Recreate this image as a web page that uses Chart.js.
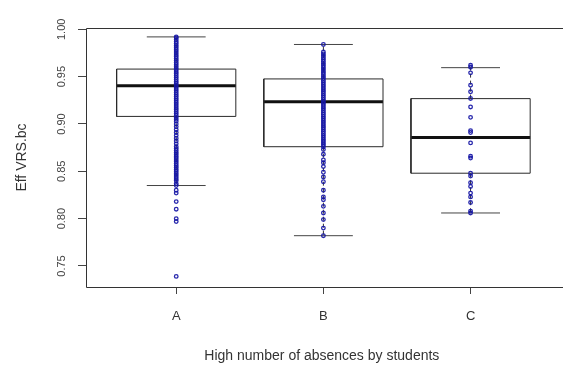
<!DOCTYPE html>
<html>
<head>
<title>Eff VRS.bc by absences</title>
<style>
  body { margin: 0; background: #fff; overflow: hidden; }
  #wrap { width: 563px; height: 370px; }
</style>
<script src="https://cdn.jsdelivr.net/npm/chart.js"></script>
</head>
<body>
<div id="wrap"><canvas id="boxChart"></canvas></div>
<script>
// categories and tick labels
var groups = ['A', 'B', 'C'];
var yTicks = [0.75, 0.80, 0.85, 0.90, 0.95, 1.00];

// box statistics
var whiskerLow  = [0.835, 0.782, 0.806];
var q1          = [0.908, 0.876, 0.848];
var median      = [0.9405, 0.9236, 0.8857];
var q3          = [0.958, 0.9476, 0.9268];
var whiskerHigh = [0.992, 0.984, 0.9595];

// individual observations (stripchart over the boxes)
var pointsA = [0.992, 0.991, 0.989, 0.987, 0.985, 0.983, 0.981, 0.979, 0.977, 0.975,
    0.973, 0.971, 0.969, 0.967, 0.965, 0.963, 0.961, 0.959, 0.957, 0.955,
    0.953, 0.951, 0.949, 0.947, 0.945, 0.943, 0.941, 0.939, 0.937, 0.935,
    0.933, 0.931, 0.929, 0.927, 0.925, 0.923, 0.921, 0.919, 0.917, 0.915,
    0.913, 0.911, 0.909, 0.907, 0.905, 0.903, 0.900, 0.897, 0.894, 0.891,
    0.888, 0.885, 0.882, 0.879, 0.876, 0.874, 0.872, 0.870, 0.868, 0.866,
    0.864, 0.862, 0.860, 0.858, 0.856, 0.854, 0.852, 0.850, 0.848, 0.846,
    0.844, 0.842, 0.840, 0.837, 0.835, 0.830, 0.827, 0.818, 0.810, 0.800,
    0.797, 0.739];
var pointsB = [0.984, 0.976, 0.974, 0.972, 0.970, 0.968, 0.966, 0.964, 0.962, 0.960,
    0.958, 0.956, 0.954, 0.952, 0.950, 0.948, 0.946, 0.944, 0.942, 0.940,
    0.938, 0.936, 0.934, 0.932, 0.930, 0.928, 0.926, 0.924, 0.922, 0.920,
    0.918, 0.916, 0.914, 0.912, 0.910, 0.908, 0.906, 0.904, 0.902, 0.900,
    0.898, 0.896, 0.894, 0.892, 0.890, 0.888, 0.886, 0.884, 0.882, 0.880,
    0.878, 0.876, 0.873, 0.868, 0.862, 0.859, 0.855, 0.849, 0.844, 0.839,
    0.830, 0.823, 0.820, 0.813, 0.806, 0.799, 0.790, 0.782];
var pointsC = [0.962, 0.960, 0.954, 0.941, 0.934, 0.927, 0.918, 0.907, 0.893, 0.891,
    0.880, 0.866, 0.864, 0.848, 0.845, 0.838, 0.834, 0.827, 0.823, 0.817,
    0.808, 0.806];

var boxHalf = 0.405; // half box width in x units
var capHalf = 0.2;   // half whisker cap width

function segment(points, width, color, dash) {
    return {
        type: 'scatter',
        data: points,
        showLine: true,
        pointRadius: 0,
        borderColor: color,
        borderWidth: width,
        borderDash: dash || [],
        fill: false,
        order: 1
    };
}

var datasets = [];

// observations drawn on top
[pointsA, pointsB, pointsC].forEach(function (vals, i) {
    datasets.push({
        type: 'scatter',
        data: vals.map(function (v) { return { x: i + 1, y: v }; }),
        pointRadius: 1.8,
        pointStyle: 'circle',
        borderColor: 'rgba(22, 22, 165, 0.92)',
        backgroundColor: 'rgba(0,0,0,0)',
        borderWidth: 1.3,
        order: 0
    });
});

groups.forEach(function (g, i) {
    var x = i + 1;
    // box outline
    datasets.push(segment([
        { x: x - boxHalf, y: q1[i] }, { x: x + boxHalf, y: q1[i] },
        { x: x + boxHalf, y: q3[i] }, { x: x - boxHalf, y: q3[i] },
        { x: x - boxHalf, y: q1[i] }
    ], 1, '#2a2a2a'));
    // median
    datasets.push(segment([{ x: x - boxHalf, y: median[i] }, { x: x + boxHalf, y: median[i] }], 3, '#111'));
    // whisker stems (dashed)
    datasets.push(segment([{ x: x, y: q3[i] }, { x: x, y: whiskerHigh[i] }], 1, '#333', [4, 3]));
    datasets.push(segment([{ x: x, y: q1[i] }, { x: x, y: whiskerLow[i] }], 1, '#333', [4, 3]));
    // caps
    datasets.push(segment([{ x: x - capHalf, y: whiskerHigh[i] }, { x: x + capHalf, y: whiskerHigh[i] }], 1, '#444'));
    datasets.push(segment([{ x: x - capHalf, y: whiskerLow[i] }, { x: x + capHalf, y: whiskerLow[i] }], 1, '#444'));
});

// plot frame like R's box(); right side is cut off in the original
var framePlugin = {
    id: 'frame',
    afterDatasetsDraw: function (chart) {
        var a = chart.chartArea, c = chart.ctx;
        var l = Math.round(a.left) + 0.5, t = Math.round(a.top) + 0.5, b = Math.round(a.bottom) + 0.5;
        c.save();
        c.strokeStyle = '#333';
        c.lineWidth = 1;
        c.beginPath();
        c.moveTo(chart.width, t);
        c.lineTo(l, t);
        c.lineTo(l, b);
        c.lineTo(chart.width, b);
        c.stroke();
        c.restore();
    }
};

var ctx = document.getElementById('boxChart').getContext('2d');
new Chart(ctx, {
    type: 'scatter',
    data: { datasets: datasets },
    plugins: [framePlugin],
    options: {
        responsive: true,
        maintainAspectRatio: false,
        animation: false,
        layout: { padding: { top: 28, right: 1, left: 0, bottom: 0 } },
        plugins: {
            legend: { display: false },
            tooltip: { enabled: false }
        },
        scales: {
            x: {
                type: 'linear',
                min: 0.387,
                max: 3.592,
                afterBuildTicks: function (scale) {
                    scale.ticks = groups.map(function (g, i) { return { value: i + 1 }; });
                },
                afterFit: function (scale) { scale.height = 83; },
                border: { display: false },
                grid: { display: true, drawOnChartArea: false, drawTicks: true, tickLength: 7, color: '#444' },
                ticks: {
                    padding: 15,
                    color: '#333',
                    font: { family: 'Liberation Sans, Arial, sans-serif', size: 13 },
                    callback: function (value, index) { return groups[index]; }
                },
                title: {
                    display: true,
                    text: 'High number of absences by students',
                    color: '#333',
                    font: { family: 'Liberation Sans, Arial, sans-serif', size: 14 },
                    padding: { top: 0, bottom: 5 }
                }
            },
            y: {
                type: 'linear',
                min: 0.7278,
                max: 1.0014,
                afterBuildTicks: function (scale) {
                    scale.ticks = yTicks.map(function (v) { return { value: v }; });
                },
                afterFit: function (scale) { scale.width = 86; },
                border: { display: false },
                grid: { display: true, drawOnChartArea: false, drawTicks: true, tickLength: 8, color: '#444' },
                ticks: {
                    minRotation: 90,
                    maxRotation: 90,
                    crossAlign: 'center',
                    padding: 5,
                    color: '#444',
                    font: { family: 'Liberation Sans, Arial, sans-serif', size: 11 },
                    callback: function (value) { return value.toFixed(2); }
                },
                title: {
                    display: true,
                    text: 'Eff VRS.bc',
                    color: '#333',
                    font: { family: 'Liberation Sans, Arial, sans-serif', size: 14 },
                    padding: { top: 14, bottom: 0 }
                }
            }
        }
    }
});
</script>
</body>
</html>
